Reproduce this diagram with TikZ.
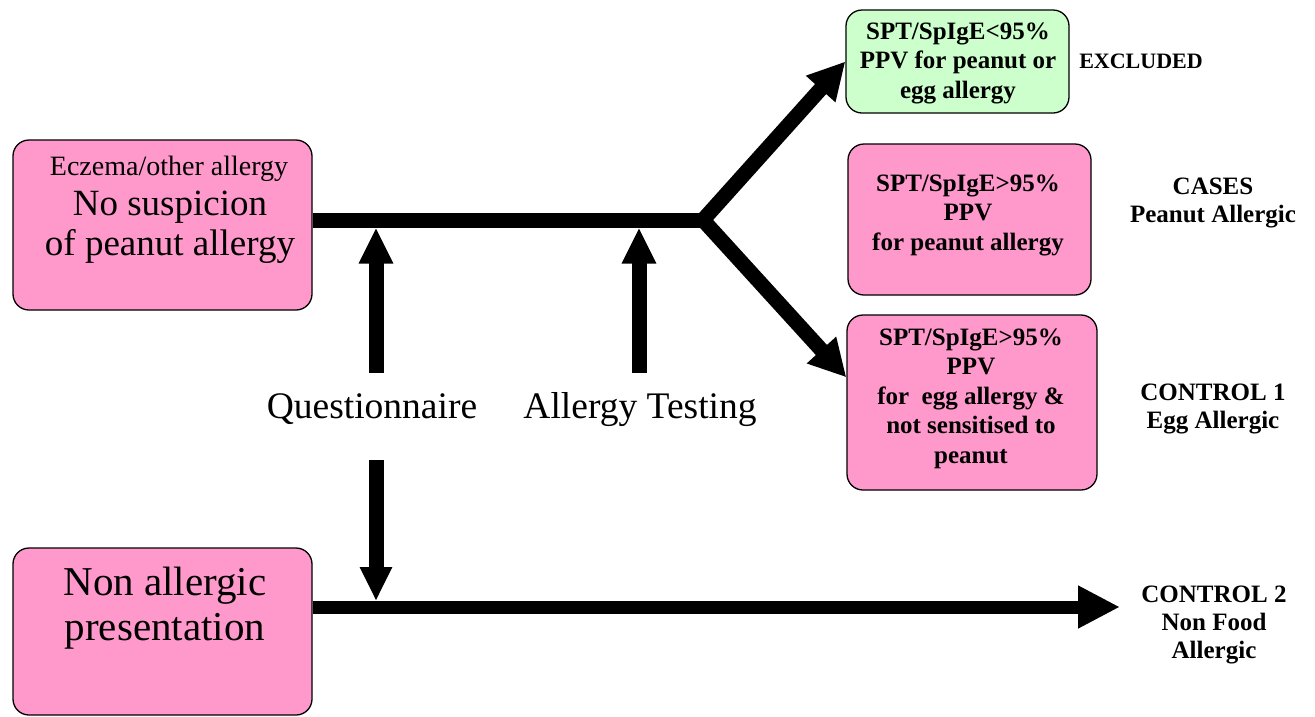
\documentclass[tikz,border=0pt]{standalone}
\usepackage{fontspec}
\setmainfont{Liberation Serif}
\usetikzlibrary{arrows.meta,calc}
\definecolor{pinkfill}{HTML}{FF99CC}
\definecolor{greenfill}{HTML}{CCFFCC}
\begin{document}
\begin{tikzpicture}[x=1pt,y=-1pt,
  box/.style={draw=black, line width=1.3pt, rounded corners=16pt, inner sep=0pt},
  txt/.style={anchor=base, align=center, inner sep=0pt},
  boxtxt/.style={txt, font=\bfseries\fontsize{25}{29.5}\selectfont},
  lbl/.style={txt, font=\bfseries\fontsize{25}{28}\selectfont},
  bigtxt/.style={txt, font=\fontsize{37.5}{40}\selectfont},
  shaft/.style={line width=15pt},
  vtip/.style={-{Triangle[length=36pt,width=32pt]}},
  dtip/.style={{Triangle[length=37pt,width=37pt]}-{Triangle[length=37pt,width=37pt]}},
]
\useasboundingbox (0,0) rectangle (1315,716);

% boxes
\node[box, fill=pinkfill, minimum width=299pt, minimum height=170pt] (b1) at (162.5,225) {};
\node[box, fill=pinkfill, minimum width=299pt, minimum height=167pt] (b2) at (162.5,631.5) {};
\node[box, fill=greenfill, minimum width=223pt, minimum height=103pt] (green) at (957.5,61.5) {};
\node[box, fill=pinkfill, minimum width=243pt, minimum height=151pt] (cases) at (969.5,219.5) {};
\node[box, fill=pinkfill, minimum width=250pt, minimum height=175pt] (c1) at (972,402.5) {};

% box texts (anchor=base is the baseline of the last line)
\node[txt, font=\fontsize{28}{30}\selectfont] (t1a) at (169,175) {Eczema/other allergy};
\node[txt, font=\fontsize{37}{40}\selectfont] (t1b) at (170,255) {No suspicion\\of peanut allergy};
\node[txt, font=\fontsize{41}{45}\selectfont] (t2) at (165,640) {Non allergic\\presentation};
\node[boxtxt] (tg) at (958,98) {SPT/SpIgE\textless95\%\\PPV for peanut or\\egg allergy};
\node[boxtxt] (tc) at (968,250) {SPT/SpIgE\textgreater95\%\\PPV\\for peanut allergy};
\node[boxtxt] (t3) at (971,463) {SPT/SpIgE\textgreater95\%\\PPV\\for~ egg allergy \&\\not sensitised to\\peanut};

% outcome labels
\node[txt, font=\bfseries\fontsize{22}{26}\selectfont] (lex) at (1141,68) {EXCLUDED};
\node[lbl] (lca) at (1213,222) {CASES\\Peanut Allergic};
\node[lbl] (lc1) at (1213,428) {CONTROL 1\\Egg Allergic};
\node[lbl] (lc2) at (1214,658) {CONTROL 2\\Non Food\\Allergic};

% step labels
\node[bigtxt] (q) at (372,418) {Questionnaire};
\node[bigtxt] (at) at (640,418) {Allergy Testing};

% coordinates
\coordinate (split) at (703,220);
\coordinate (qbot) at (376,373);
\coordinate (qtop) at (376,227.5);
\coordinate (abot) at (639,373);
\coordinate (atop) at (639,227.5);
\coordinate (qd) at (376,460);
\coordinate (qdtip) at (376,601);
\coordinate (c2tip) at (1120,607);
\coordinate (dn) at ($(c1.north west)+(0,63)$);

% top flow line
\draw[shaft] (b1.east |- split) -- (split);
\draw[shaft, line join=miter, dtip] (green.west) -- (split) -- (dn);
% vertical arrows
\draw[shaft, vtip] (qbot) -- (qtop);
\draw[shaft, vtip] (abot) -- (atop);
\draw[shaft, -{Triangle[length=34pt,width=30pt]}] (qd) -- (qdtip);
% bottom flow line
\draw[line width=13pt, -{Triangle[length=42pt,width=40pt]}] (b2.east |- c2tip) -- (c2tip);
\end{tikzpicture}
\end{document}
